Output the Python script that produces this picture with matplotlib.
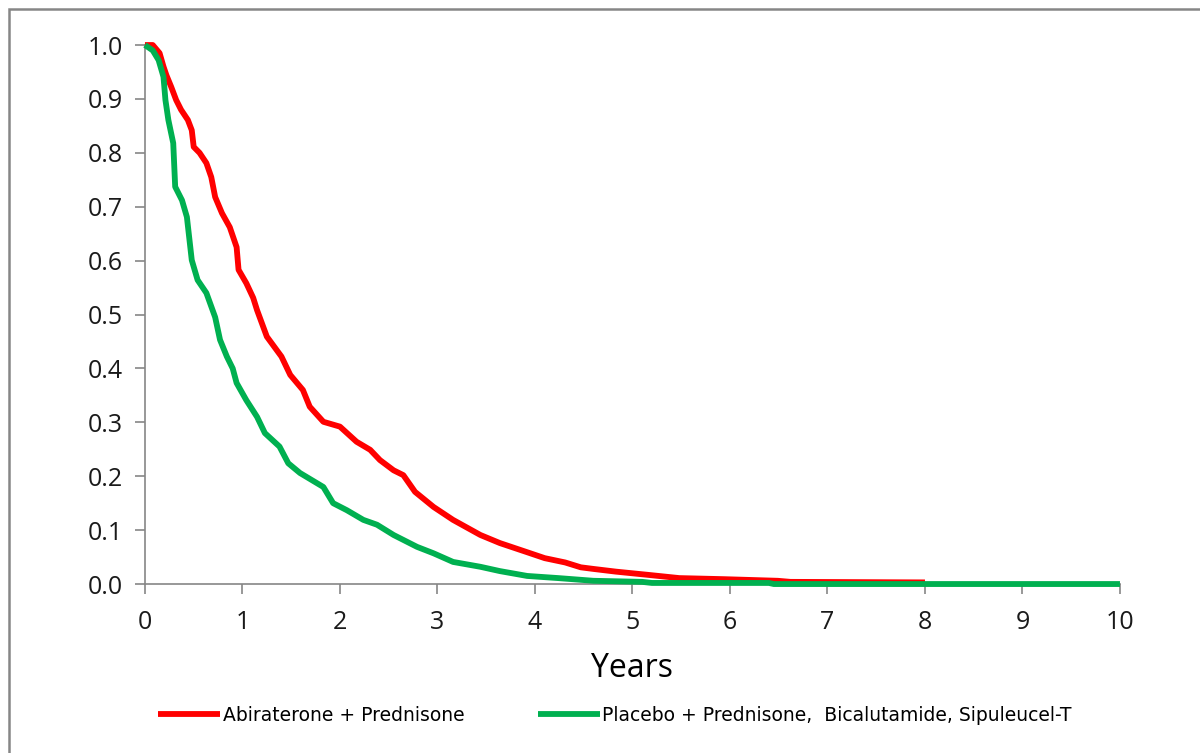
import matplotlib
matplotlib.use("Agg")
import matplotlib.pyplot as plt
from matplotlib.patches import Rectangle

# survival fraction vs. years
t_abi = [0, 0.08, 0.15, 0.19, 0.22, 0.27, 0.32, 0.37, 0.44, 0.48, 0.50, 0.56, 0.63, 0.68,
         0.72, 0.79, 0.87, 0.94, 0.96, 1.04, 1.11, 1.15, 1.25, 1.40, 1.49, 1.62, 1.69, 1.83,
         2.0, 2.17, 2.31, 2.41, 2.55, 2.65, 2.77, 2.96, 3.16, 3.44, 3.64, 3.92, 4.1, 4.31,
         4.47, 4.6, 4.83, 5.16, 5.48, 5.94, 6.49, 6.62, 8.0]
s_abi = [1.0, 1.0, 0.985, 0.96, 0.944, 0.922, 0.898, 0.88, 0.861, 0.842, 0.811, 0.80, 0.781, 0.755,
         0.718, 0.688, 0.662, 0.625, 0.583, 0.558, 0.531, 0.508, 0.459, 0.422, 0.388, 0.36, 0.329, 0.301,
         0.292, 0.264, 0.249, 0.23, 0.211, 0.202, 0.171, 0.143, 0.119, 0.091, 0.076, 0.059, 0.048, 0.040,
         0.031, 0.028, 0.023, 0.017, 0.011, 0.009, 0.006, 0.004, 0.003]

t_pbo = [0, 0.08, 0.14, 0.19, 0.21, 0.24, 0.29, 0.31, 0.38, 0.43, 0.48, 0.54, 0.63, 0.72, 0.77,
         0.84, 0.9, 0.94, 1.04, 1.15, 1.23, 1.38, 1.47, 1.59, 1.83, 1.93, 2.07, 2.24, 2.38, 2.55,
         2.79, 2.96, 3.16, 3.44, 3.64, 3.92, 4.24, 4.6, 5.1, 5.2, 6.4, 6.45, 10.0]
s_pbo = [1.0, 0.99, 0.972, 0.941, 0.898, 0.861, 0.818, 0.737, 0.712, 0.681, 0.601, 0.564, 0.54, 0.495, 0.453,
         0.422, 0.40, 0.373, 0.341, 0.31, 0.28, 0.255, 0.224, 0.206, 0.18, 0.15, 0.137, 0.119, 0.11, 0.091,
         0.069, 0.057, 0.041, 0.032, 0.024, 0.015, 0.011, 0.006, 0.004, 0.002, 0.002, 0.0, 0.0]

label_abi = "Abiraterone + Prednisone"
label_pbo = "Placebo + Prednisone,  Bicalutamide, Sipuleucel-T"

x_ticks = list(range(0, 11))
y_ticks = [i / 10 for i in range(0, 11)]

grey = "#868686"

fig = plt.figure(figsize=(12, 7.53), dpi=100)
ax = fig.add_axes([0.1208, 0.2244, 0.8125, 0.7158])

ax.plot(t_abi, s_abi, color="#FF0000", lw=4.2, solid_capstyle="butt", label=label_abi, clip_on=False, zorder=3)
ax.plot(t_pbo, s_pbo, color="#00B050", lw=4.2, solid_capstyle="butt", label=label_pbo, clip_on=False, zorder=4)

ax.set_xlim(0, 10)
ax.set_ylim(0, 1.0)
ax.set_xticks(x_ticks)
ax.set_yticks(y_ticks)
ax.set_yticklabels([f"{v:.1f}" for v in y_ticks])

for side in ("top", "right"):
    ax.spines[side].set_visible(False)
for side in ("left", "bottom"):
    ax.spines[side].set_color(grey)
    ax.spines[side].set_linewidth(1.2)

ax.tick_params(direction="out", length=7, width=1.2, color=grey, labelsize=18,
               labelcolor="#1a1a1a")
ax.tick_params(axis="x", pad=12)
ax.tick_params(axis="y", pad=9)
for lbl in ax.get_xticklabels() + ax.get_yticklabels():
    lbl.set_family(["Open Sans", "DejaVu Sans"])

ax.set_xlabel("Years", fontsize=23, family=["Open Sans", "DejaVu Sans"], labelpad=12)

leg = fig.legend(loc="center", bbox_to_anchor=(0.5125, 0.05), ncol=2, frameon=False,
                 handlelength=3.3, handletextpad=0.15, columnspacing=3.9,
                 prop={"family": ["Liberation Sans Narrow", "DejaVu Sans"], "size": 13.5})

# outer chart frame, cut off at the right and bottom
fig.patches.append(Rectangle((9 / 1200, -0.05), 1.05, 1 - 9 / 753 + 0.05,
                             transform=fig.transFigure, fill=False,
                             edgecolor=grey, linewidth=1.8))

fig.savefig("out.png", dpi=100)
